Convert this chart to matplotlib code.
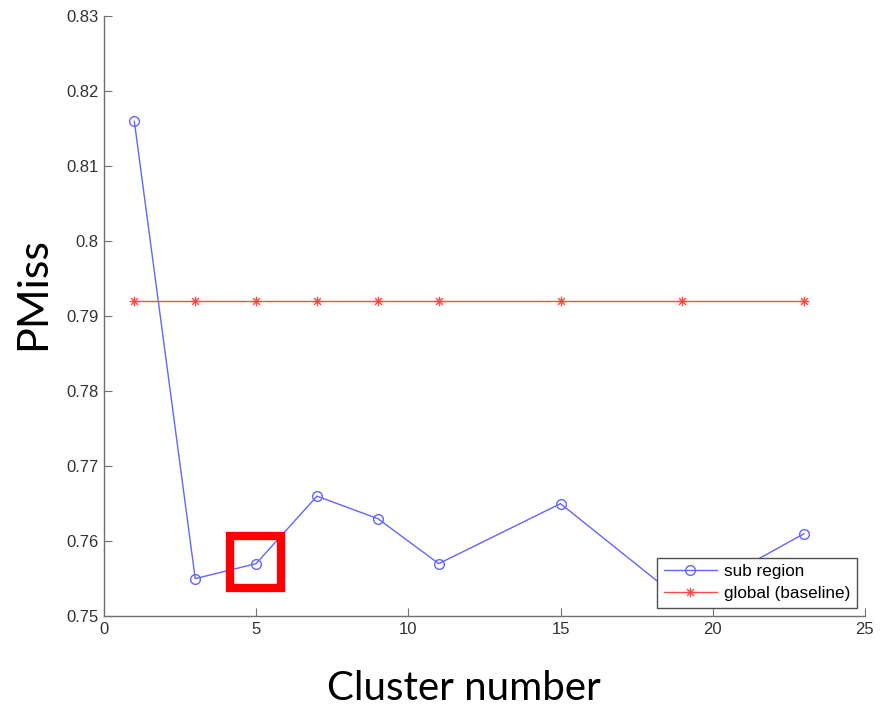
import matplotlib
matplotlib.use('Agg')
import matplotlib.pyplot as plt
from matplotlib.patches import Rectangle
from matplotlib.path import Path

# data
clusters = [1, 3, 5, 7, 9, 11, 15, 19, 23]
pmiss_sub = [0.816, 0.755, 0.757, 0.766, 0.763, 0.757, 0.765, 0.752, 0.761]
pmiss_global = [0.792] * len(clusters)

# highlighted point (cluster 5)
box_x = [4.13, 5.81]
box_y = [0.7537, 0.7607]

plt.rcParams['font.family'] = ['Liberation Sans', 'DejaVu Sans']

# matlab style asterisk: '+' and 'x' together
d = 0.7071
asterisk = Path([(0, -1), (0, 1), (-1, 0), (1, 0), (-d, -d), (d, d), (-d, d), (d, -d)],
                [Path.MOVETO, Path.LINETO] * 4)

fig = plt.figure(figsize=(8.88, 7.09), dpi=100)
ax = fig.add_axes([0.117, 0.131, 0.857, 0.846])

ax.plot(clusters, pmiss_sub, '-o', color='#6464ff', lw=1.0, ms=7,
        mfc='none', mec='#6464ff', mew=1.0, label='sub region')
ax.plot(clusters, pmiss_global, '-', marker=asterisk, color='#ff4a4a', lw=1.0, ms=7,
        mew=1.0, label='global (baseline)')

ax.add_patch(Rectangle((box_x[0], box_y[0]), box_x[1] - box_x[0], box_y[1] - box_y[0],
                       fill=False, edgecolor='#ff0000', lw=6, zorder=5))

ax.set_xlim(0, 25)
ax.set_ylim(0.75, 0.83)
ax.set_xticks([0, 5, 10, 15, 20, 25])
ax.set_yticks([0.75, 0.76, 0.77, 0.78, 0.79, 0.8, 0.81, 0.82, 0.83])
ax.set_yticklabels(['0.75', '0.76', '0.77', '0.78', '0.79', '0.8', '0.81', '0.82', '0.83'])

for side in ['top', 'right']:
    ax.spines[side].set_visible(False)
for side in ['left', 'bottom']:
    ax.spines[side].set_color('#707070')
    ax.spines[side].set_linewidth(1.0)
ax.tick_params(direction='in', length=6, color='#707070', labelcolor='#333333',
               labelsize=12, pad=4)

ax.set_xlabel('Cluster number', family='Lato', fontsize=29)
ax.xaxis.set_label_coords(0.473, -0.14)
ax.xaxis.label.set_verticalalignment('baseline')
ax.set_ylabel('PMiss', family='Lato', fontsize=31)
ax.yaxis.set_label_coords(-0.077, 0.538)
ax.yaxis.label.set_verticalalignment('baseline')

leg = ax.legend(loc='lower right', bbox_to_anchor=(0.9895, 0.0133), borderaxespad=0,
                fontsize=12.3, frameon=True, fancybox=False, framealpha=1,
                handlelength=3.1, handletextpad=0.4, borderpad=0.4, labelspacing=0.4)
leg.get_frame().set_edgecolor('#505050')
leg.get_frame().set_linewidth(1.0)

fig.savefig('out.png', dpi=100)
